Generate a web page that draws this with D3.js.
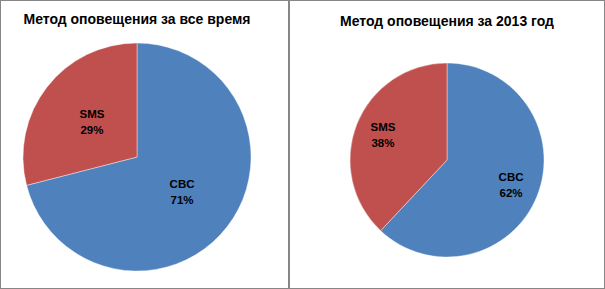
<!DOCTYPE html>
<html>
<head>
<meta charset="utf-8">
<script src="https://cdn.jsdelivr.net/npm/d3@7"></script>
<style>
  body { margin: 0; background: #fff; }
  text { font-family: "Liberation Sans", Arial, sans-serif; }
</style>
</head>
<body>
<div id="chart"></div>
<script>
// Two pie charts side by side
const width = 605, height = 289;

const categories = ["CBC", "SMS"];
const allTime = [71, 29];   // за все время
const year2013 = [62, 38];  // за 2013 год
const titles = ["Метод оповещения за все время", "Метод оповещения за 2013 год"];

const colors = d3.scaleOrdinal().domain(categories).range(["#4f81bd", "#c0504d"]);

const svg = d3.select("#chart")
    .append("svg")
    .attr("width", width)
    .attr("height", height);

// panel layout: frame, pie centre, radius, where labels sit
const panels = [
    { values: allTime, title: titles[0], x0: 0, x1: 289, cx: 137, cy: 157, r: 114, lr: 0.5, ty: 24 },
    { values: year2013, title: titles[1], x0: 289, x1: 605, cx: 447, cy: 160, r: 97, lr: 0.71, ty: 26 }
];

const pie = d3.pie().sort(null).value(d => d.value);

panels.forEach(p => {
    const g = svg.append("g");

    g.append("rect") // chart frame
        .attr("x", p.x0 + 0.5)
        .attr("y", 0.5)
        .attr("width", p.x1 - p.x0 - 1)
        .attr("height", height - 1)
        .attr("fill", "#fff")
        .attr("stroke", "#868686");

    g.append("text")
        .attr("x", p.cx)
        .attr("y", p.ty)
        .attr("text-anchor", "middle")
        .attr("font-size", 14)
        .attr("font-weight", "bold")
        .text(p.title);

    const data = pie(categories.map((c, i) => ({ name: c, value: p.values[i] })));
    const arc = d3.arc().innerRadius(0).outerRadius(p.r);
    const labelArc = d3.arc().innerRadius(p.r * p.lr).outerRadius(p.r * p.lr);

    const pg = g.append("g").attr("transform", `translate(${p.cx},${p.cy})`);

    pg.selectAll("path")
        .data(data)
        .join("path")
        .attr("d", arc)
        .attr("fill", d => colors(d.data.name))
        .attr("stroke", "#fff")
        .attr("stroke-width", 0.4);

    const lab = pg.selectAll("text")
        .data(data)
        .join("text")
        .attr("transform", d => `translate(${labelArc.centroid(d)})`)
        .attr("text-anchor", "middle")
        .attr("font-size", 11.5)
        .attr("font-weight", "bold")
        .attr("fill", "#000");

    lab.append("tspan").attr("x", 0).attr("y", -4).text(d => d.data.name);
    lab.append("tspan").attr("x", 0).attr("y", 12).text(d => d.data.value + "%");
});
</script>
</body>
</html>
